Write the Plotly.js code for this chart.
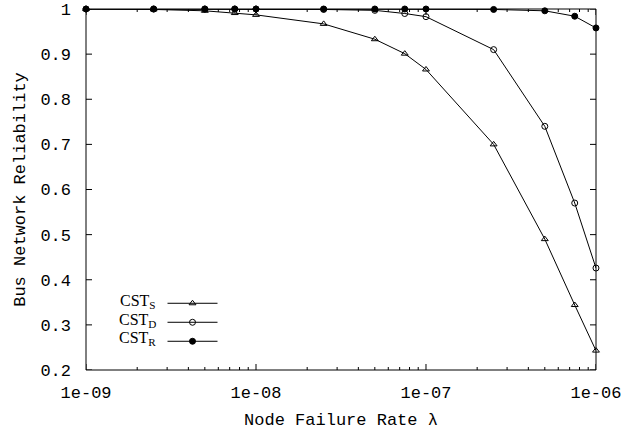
<!DOCTYPE html>
<html>
<head>
<meta charset="utf-8">
<script src="https://cdn.plot.ly/plotly-3.0.1.min.js"></script>
<style>html,body{margin:0;padding:0;background:#fff;}#chart{width:642px;height:430px;}</style>
</head>
<body>
<div id="chart"></div>
<script>
const failureRates = [1e-9, 2.5e-9, 5e-9, 7.5e-9, 1e-8, 2.5e-8, 5e-8, 7.5e-8, 1e-7, 2.5e-7, 5e-7, 7.5e-7, 1e-6];
const cstS = [1.0, 0.999, 0.996, 0.991, 0.987, 0.967, 0.933, 0.901, 0.866, 0.700, 0.490, 0.344, 0.243];
const cstD = [1.0, 1.0, 1.0, 1.0, 1.0, 0.999, 0.997, 0.990, 0.983, 0.910, 0.740, 0.570, 0.426];
const cstR = [1.0, 1.0, 1.0, 1.0, 1.0, 1.0, 1.0, 1.0, 1.0, 0.999, 0.996, 0.984, 0.958];
const seriesNames = ['CST<sub>S</sub>', 'CST<sub>D</sub>', 'CST<sub>R</sub>'];
const xTickVals = [1e-9, 1e-8, 1e-7, 1e-6];
const xTickText = ['1e-09', '1e-08', '1e-07', '1e-06'];
const minorDigits = [2, 3, 4, 5, 6, 7, 8, 9];
const yTickVals = [0.2, 0.3, 0.4, 0.5, 0.6, 0.7, 0.8, 0.9, 1];
const yTickText = ['0.2', '0.3', '0.4', '0.5', '0.6', '0.7', '0.8', '0.9', '1'];

const font = "'Liberation Mono', 'Courier New', monospace";
const serif = "'Liberation Serif', 'Times New Roman', serif";
const symbols = ['triangle-up-open', 'circle-open', 'circle'];
const values = [cstS, cstD, cstR];
const traces = values.map((v, i) => ({
  x: failureRates, y: v, name: ' ', type: 'scatter', mode: 'lines+markers', cliponaxis: false,
  line: {color: '#000', width: 1},
  marker: {symbol: symbols[i], size: 6, color: '#000', line: {color: '#000', width: 1}}
}));

// minor tick positions (2..9 in each decade)
const minorVals = [];
xTickVals.slice(0, -1).forEach(d => minorDigits.forEach(m => minorVals.push(d * m)));

// frame and inward ticks on all four sides (gnuplot style), sized in pixels
const tickLine = {color: '#000', width: 1};
const shapes = [{type: 'rect', xref: 'paper', yref: 'paper', x0: 0, x1: 1, y0: 0, y1: 1,
  line: tickLine, fillcolor: 'rgba(0,0,0,0)', layer: 'above'}];
function xTick(v, len) {
  [0, 1].forEach(side => shapes.push({type: 'line', xref: 'x', yref: 'paper', ysizemode: 'pixel',
    yanchor: side, x0: v, x1: v, y0: 0, y1: side ? -len : len, line: tickLine, layer: 'above'}));
}
function yTick(v, len) {
  [0, 1].forEach(side => shapes.push({type: 'line', xref: 'paper', yref: 'y', xsizemode: 'pixel',
    xanchor: side, y0: v, y1: v, x0: 0, x1: side ? -len : len, line: tickLine, layer: 'above'}));
}
xTickVals.forEach(v => xTick(v, 6));
minorVals.forEach(v => xTick(v, 3));
yTickVals.forEach(v => yTick(v, 6));

const legendRowsY = [0.191, 0.138, 0.086];
const annotations = seriesNames.map((n, i) => ({
  xref: 'paper', yref: 'paper', x: 0.141, y: legendRowsY[i], xanchor: 'right', yanchor: 'middle',
  text: n, showarrow: false, font: {family: serif, size: 16, color: '#000'}
}));

const xRange = [-9.0002, -5.9998];
const axisBase = {ticks: '', showline: false, showgrid: false, zeroline: false};

const layout = {
  width: 642, height: 430,
  margin: {l: 86, r: 46, t: 9, b: 60},
  paper_bgcolor: '#fff', plot_bgcolor: '#fff',
  font: {family: font, size: 17, color: '#000'},
  showlegend: true,
  annotations: annotations,
  shapes: shapes,
  legend: {x: 0.15, y: 0.225, xanchor: 'left', yanchor: 'top', bgcolor: 'rgba(0,0,0,0)',
           font: {family: serif, size: 10}, tracegroupgap: 0, itemwidth: 50},
  xaxis: Object.assign({}, axisBase, {
    type: 'log', range: xRange, tickmode: 'array', tickvals: xTickVals, ticktext: xTickText,
    ticklabelstandoff: 10,
    title: {text: 'Node Failure Rate λ', font: {family: font, size: 17}, standoff: 12},
    tickfont: {family: font, size: 17}
  }),
  yaxis: Object.assign({}, axisBase, {
    range: [0.2, 1], tickmode: 'array', tickvals: yTickVals, ticktext: yTickText,
    ticklabelstandoff: 14,
    title: {text: 'Bus Network Reliability', font: {family: font, size: 17}, standoff: 10},
    tickfont: {family: font, size: 17}
  })
};
Plotly.newPlot('chart', traces, layout, {displayModeBar: false, staticPlot: true});
</script>
</body>
</html>
